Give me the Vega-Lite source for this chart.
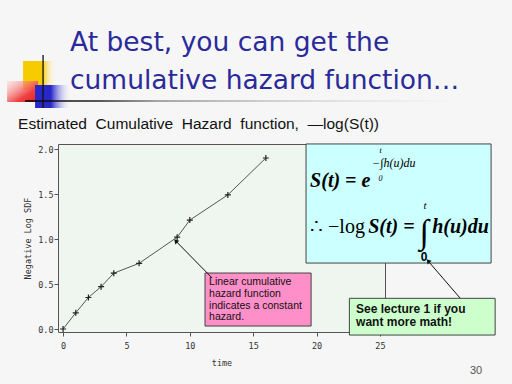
{
  "$schema": "https://vega.github.io/schema/vega-lite/v6.json",
  "autosize": "none",
  "width": 327,
  "height": 188,
  "padding": {"left": 58, "top": 144, "right": 127, "bottom": 52},
  "background": "#F6F6F6",
  "title": {
    "text": ["At best, you can get the", "cumulative hazard function…"],
    "anchor": "start",
    "frame": "group",
    "dx": 12,
    "dy": 80,
    "offset": 40,
    "font": "DejaVu Sans",
    "fontSize": 26.5,
    "fontWeight": "normal",
    "color": "#2A2A9A",
    "lineHeight": 38
  },
  "datasets": {
    "hazard": [
      {"time": 0, "nlsdf": 0.0},
      {"time": 1, "nlsdf": 0.18},
      {"time": 2, "nlsdf": 0.35},
      {"time": 3, "nlsdf": 0.47},
      {"time": 4, "nlsdf": 0.62},
      {"time": 6, "nlsdf": 0.73},
      {"time": 9, "nlsdf": 1.02},
      {"time": 10, "nlsdf": 1.21},
      {"time": 13, "nlsdf": 1.49},
      {"time": 16, "nlsdf": 1.9}
    ],
    "decor": [
      {"piece": "yellow", "t": -3.156, "t2": -0.631, "v": 2.978, "v2": 2.656},
      {"piece": "red", "t": -4.418, "t2": -1.973, "v": 2.756, "v2": 2.522},
      {"piece": "blue", "t": -2.209, "t2": 0.552, "v": 2.711, "v2": 2.456},
      {"piece": "rule", "t": -2.998, "t2": 31.56, "v": 2.542, "v2": 2.526},
      {"piece": "stem", "t": -1.578, "t2": -1.578, "v": 3.044, "v2": 2.456}
    ],
    "panels": [
      {"panel": "pink", "t": 11.2, "t2": 19.57, "v": 0.033, "v2": 0.622},
      {"panel": "cyan", "t": 19.17, "t2": 33.77, "v": 0.733, "v2": 2.056},
      {"panel": "green", "t": 22.59, "t2": 34.09, "v": -0.067, "v2": 0.341}
    ],
    "arrows": [
      {"t": 11.76, "v": 0.567, "t2": 8.89, "v2": 0.978},
      {"t": 31.32, "v": 0.344, "t2": 28.8, "v2": 0.756}
    ],
    "notes": [
      {"kind": "subtitle", "t": -3.55, "v": 2.222, "text": "Estimated\u00a0 Cumulative\u00a0 Hazard\u00a0 function,\u00a0 —log(S(t))"},
      {"kind": "pink", "t": 11.52, "v": 0.578, "text": "Linear cumulative\nhazard function\nindicates a constant\nhazard."},
      {"kind": "green", "t": 23.12, "v": 0.278, "text": "See lecture 1 if you\nwant more math!"},
      {"kind": "page", "t": 32.59, "v": -0.467, "text": "30"}
    ],
    "formula": [
      {"kind": "bi", "t": 19.49, "v": 1.578, "text": "S(t) = e"},
      {"kind": "bi", "t": 24.07, "v": 1.067, "text": "S(t) ="},
      {"kind": "bi", "t": 29.12, "v": 1.067, "text": "h(u)du"},
      {"kind": "reg", "t": 19.49, "v": 1.067, "text": "∴ −log"},
      {"kind": "exp", "t": 24.38, "v": 1.8, "text": "−∫h(u)du"},
      {"kind": "lim", "t": 25.05, "v": 1.975, "text": "t"},
      {"kind": "lim", "t": 25.05, "v": 1.67, "text": "0"},
      {"kind": "int", "t": 28.48, "v": 1.065, "text": "∫"},
      {"kind": "limt", "t": 28.55, "v": 1.37, "text": "t"},
      {"kind": "lim0", "t": 28.48, "v": 0.8, "text": "0"}
    ]
  },
  "layer": [
    {
      "data": {"name": "decor"},
      "transform": [{"filter": "datum.piece === 'yellow'"}],
      "mark": {"type": "rect", "color": {"gradient": "linear", "x1": 0, "y1": 0, "x2": 1, "y2": 0, "stops": [{"offset": 0, "color": "#F6CC00"}, {"offset": 0.6, "color": "#F6CC00"}, {"offset": 1, "color": "rgba(255,240,200,0)"}]}},
      "encoding": {
        "x": {"field": "t", "type": "quantitative", "title": "time"},
        "x2": {"field": "t2"},
        "y": {"field": "v", "type": "quantitative", "title": "Negative Log SDF"},
        "y2": {"field": "v2"}
      }
    },
    {
      "data": {"name": "decor"},
      "transform": [{"filter": "datum.piece === 'red'"}],
      "mark": {"type": "rect", "color": {"gradient": "linear", "x1": 1, "y1": 1, "x2": 0, "y2": 0, "stops": [{"offset": 0, "color": "#E82020"}, {"offset": 0.35, "color": "#EE4040"}, {"offset": 1, "color": "rgba(255,190,190,0.3)"}]}},
      "encoding": {
        "x": {"field": "t", "type": "quantitative", "title": "time"},
        "x2": {"field": "t2"},
        "y": {"field": "v", "type": "quantitative", "title": "Negative Log SDF"},
        "y2": {"field": "v2"}
      }
    },
    {
      "data": {"name": "decor"},
      "transform": [{"filter": "datum.piece === 'blue'"}],
      "mark": {"type": "rect", "color": {"gradient": "linear", "x1": 0, "y1": 0, "x2": 1, "y2": 0, "stops": [{"offset": 0, "color": "#2828C8"}, {"offset": 0.45, "color": "#2828C8"}, {"offset": 1, "color": "rgba(220,220,255,0)"}]}},
      "encoding": {
        "x": {"field": "t", "type": "quantitative", "title": "time"},
        "x2": {"field": "t2"},
        "y": {"field": "v", "type": "quantitative", "title": "Negative Log SDF"},
        "y2": {"field": "v2"}
      }
    },
    {
      "data": {"name": "decor"},
      "transform": [{"filter": "datum.piece === 'rule'"}],
      "mark": {"type": "rect", "color": {"gradient": "linear", "x1": 0, "y1": 0, "x2": 1, "y2": 0, "stops": [{"offset": 0, "color": "#000000"}, {"offset": 0.17, "color": "#222222"}, {"offset": 0.3, "color": "#888888"}, {"offset": 1, "color": "rgba(210,210,210,0)"}]}},
      "encoding": {
        "x": {"field": "t", "type": "quantitative", "title": "time"},
        "x2": {"field": "t2"},
        "y": {"field": "v", "type": "quantitative", "title": "Negative Log SDF"},
        "y2": {"field": "v2"}
      }
    },
    {
      "data": {"name": "decor"},
      "transform": [{"filter": "datum.piece === 'stem'"}],
      "mark": {"type": "rule", "color": "#111111", "strokeWidth": 1.3},
      "encoding": {
        "x": {"field": "t", "type": "quantitative", "title": "time"},
        "y": {"field": "v", "type": "quantitative", "title": "Negative Log SDF"},
        "y2": {"field": "v2"}
      }
    },
    {
      "data": {"name": "hazard"},
      "mark": {"type": "line", "color": "#555555", "strokeWidth": 1},
      "encoding": {
        "x": {"field": "time", "type": "quantitative", "title": "time",
              "scale": {"domain": [-0.4, 25.4], "nice": false, "zero": false},
              "axis": {"values": [0, 5, 10, 15, 20, 25]}},
        "y": {"field": "nlsdf", "type": "quantitative", "title": "Negative Log SDF",
              "scale": {"domain": [-0.0333, 2.0556], "nice": false, "zero": false},
              "axis": {"values": [0, 0.5, 1, 1.5, 2], "format": ".1f"}}
      }
    },
    {
      "data": {"name": "hazard"},
      "mark": {"type": "point", "shape": "M-1,0L1,0M0,-1L0,1", "size": 36, "filled": false, "stroke": "#222222", "strokeWidth": 1.2, "opacity": 1},
      "encoding": {
        "x": {"field": "time", "type": "quantitative", "title": "time"},
        "y": {"field": "nlsdf", "type": "quantitative", "title": "Negative Log SDF"}
      }
    },
    {
      "data": {"name": "notes"},
      "transform": [{"filter": "datum.kind === 'subtitle'"}],
      "mark": {"type": "text", "align": "left", "baseline": "alphabetic", "font": "Liberation Sans", "fontSize": 15.5, "color": "#111111"},
      "encoding": {
        "x": {"field": "t", "type": "quantitative", "title": "time"},
        "y": {"field": "v", "type": "quantitative", "title": "Negative Log SDF"},
        "text": {"field": "text"}
      }
    },
    {
      "data": {"name": "panels"},
      "mark": {"type": "rect", "stroke": "#444444", "strokeWidth": 1, "opacity": 1},
      "encoding": {
        "x": {"field": "t", "type": "quantitative", "title": "time"},
        "x2": {"field": "t2"},
        "y": {"field": "v", "type": "quantitative", "title": "Negative Log SDF"},
        "y2": {"field": "v2"},
        "fill": {"field": "panel", "type": "nominal", "legend": null,
                 "scale": {"domain": ["pink", "cyan", "green"], "range": ["#FF8FC8", "#CCFFFF", "#CCFFCC"]}}
      }
    },
    {
      "data": {"name": "arrows"},
      "mark": {"type": "rule", "color": "#111111", "strokeWidth": 1},
      "encoding": {
        "x": {"field": "t", "type": "quantitative", "title": "time"},
        "x2": {"field": "t2"},
        "y": {"field": "v", "type": "quantitative", "title": "Negative Log SDF"},
        "y2": {"field": "v2"}
      }
    },
    {
      "data": {"name": "arrows"},
      "mark": {"type": "point", "shape": "triangle-up", "size": 28, "filled": true, "color": "#111111", "angle": 317, "opacity": 1},
      "encoding": {
        "x": {"field": "t2", "type": "quantitative", "title": "time"},
        "y": {"field": "v2", "type": "quantitative", "title": "Negative Log SDF"}
      }
    },
    {
      "data": {"name": "notes"},
      "transform": [{"filter": "datum.kind === 'pink'"}],
      "mark": {"type": "text", "align": "left", "baseline": "top", "font": "Liberation Sans", "fontSize": 10.5, "lineHeight": 11.8, "lineBreak": "\n", "color": "#111111"},
      "encoding": {
        "x": {"field": "t", "type": "quantitative", "title": "time"},
        "y": {"field": "v", "type": "quantitative", "title": "Negative Log SDF"},
        "text": {"field": "text"}
      }
    },
    {
      "data": {"name": "notes"},
      "transform": [{"filter": "datum.kind === 'green'"}],
      "mark": {"type": "text", "align": "left", "baseline": "top", "font": "Liberation Sans", "fontWeight": "bold", "fontSize": 12, "lineHeight": 13, "lineBreak": "\n", "color": "#111111"},
      "encoding": {
        "x": {"field": "t", "type": "quantitative", "title": "time"},
        "y": {"field": "v", "type": "quantitative", "title": "Negative Log SDF"},
        "text": {"field": "text"}
      }
    },
    {
      "data": {"name": "notes"},
      "transform": [{"filter": "datum.kind === 'page'"}],
      "mark": {"type": "text", "align": "center", "baseline": "middle", "font": "Liberation Sans", "fontSize": 11, "color": "#555555"},
      "encoding": {
        "x": {"field": "t", "type": "quantitative", "title": "time"},
        "y": {"field": "v", "type": "quantitative", "title": "Negative Log SDF"},
        "text": {"field": "text"}
      }
    },
    {
      "data": {"name": "formula"},
      "transform": [{"filter": "datum.kind === 'bi'"}],
      "mark": {"type": "text", "align": "left", "baseline": "alphabetic", "font": "Liberation Serif", "fontStyle": "italic", "fontWeight": "bold", "fontSize": 20, "color": "#000000"},
      "encoding": {
        "x": {"field": "t", "type": "quantitative", "title": "time"},
        "y": {"field": "v", "type": "quantitative", "title": "Negative Log SDF"},
        "text": {"field": "text"}
      }
    },
    {
      "data": {"name": "formula"},
      "transform": [{"filter": "datum.kind === 'reg'"}],
      "mark": {"type": "text", "align": "left", "baseline": "alphabetic", "font": "Liberation Serif", "fontSize": 20, "color": "#000000"},
      "encoding": {
        "x": {"field": "t", "type": "quantitative", "title": "time"},
        "y": {"field": "v", "type": "quantitative", "title": "Negative Log SDF"},
        "text": {"field": "text"}
      }
    },
    {
      "data": {"name": "formula"},
      "transform": [{"filter": "datum.kind === 'exp'"}],
      "mark": {"type": "text", "align": "left", "baseline": "alphabetic", "font": "Liberation Serif", "fontStyle": "italic", "fontSize": 12, "color": "#000000"},
      "encoding": {
        "x": {"field": "t", "type": "quantitative", "title": "time"},
        "y": {"field": "v", "type": "quantitative", "title": "Negative Log SDF"},
        "text": {"field": "text"}
      }
    },
    {
      "data": {"name": "formula"},
      "transform": [{"filter": "datum.kind === 'lim'"}],
      "mark": {"type": "text", "align": "center", "baseline": "middle", "font": "Liberation Serif", "fontStyle": "italic", "fontSize": 8, "color": "#000000"},
      "encoding": {
        "x": {"field": "t", "type": "quantitative", "title": "time"},
        "y": {"field": "v", "type": "quantitative", "title": "Negative Log SDF"},
        "text": {"field": "text"}
      }
    },
    {
      "data": {"name": "formula"},
      "transform": [{"filter": "datum.kind === 'int'"}],
      "mark": {"type": "text", "align": "center", "baseline": "middle", "font": "Liberation Serif", "fontSize": 34, "color": "#000000"},
      "encoding": {
        "x": {"field": "t", "type": "quantitative", "title": "time"},
        "y": {"field": "v", "type": "quantitative", "title": "Negative Log SDF"},
        "text": {"field": "text"}
      }
    },
    {
      "data": {"name": "formula"},
      "transform": [{"filter": "datum.kind === 'limt'"}],
      "mark": {"type": "text", "align": "center", "baseline": "middle", "font": "Liberation Serif", "fontStyle": "italic", "fontSize": 11, "color": "#000000"},
      "encoding": {
        "x": {"field": "t", "type": "quantitative", "title": "time"},
        "y": {"field": "v", "type": "quantitative", "title": "Negative Log SDF"},
        "text": {"field": "text"}
      }
    },
    {
      "data": {"name": "formula"},
      "transform": [{"filter": "datum.kind === 'lim0'"}],
      "mark": {"type": "text", "align": "center", "baseline": "middle", "font": "Liberation Sans", "fontWeight": "bold", "fontSize": 12, "color": "#000000"},
      "encoding": {
        "x": {"field": "t", "type": "quantitative", "title": "time"},
        "y": {"field": "v", "type": "quantitative", "title": "Negative Log SDF"},
        "text": {"field": "text"}
      }
    }
  ],
  "config": {
    "view": {"stroke": "#555555", "strokeWidth": 1, "fill": "#EFF5EF"},
    "axis": {
      "domain": false,
      "grid": false,
      "labelFont": "DejaVu Sans Mono",
      "labelFontSize": 8.5,
      "labelColor": "#333333",
      "tickColor": "#555555",
      "tickSize": 4,
      "titleFont": "DejaVu Sans Mono",
      "titleFontSize": 8.5,
      "titleFontWeight": "normal",
      "titleColor": "#333333"
    },
    "axisX": {"labelPadding": 5, "titlePadding": 9},
    "axisY": {"labelPadding": 1, "titlePadding": 5}
  }
}
